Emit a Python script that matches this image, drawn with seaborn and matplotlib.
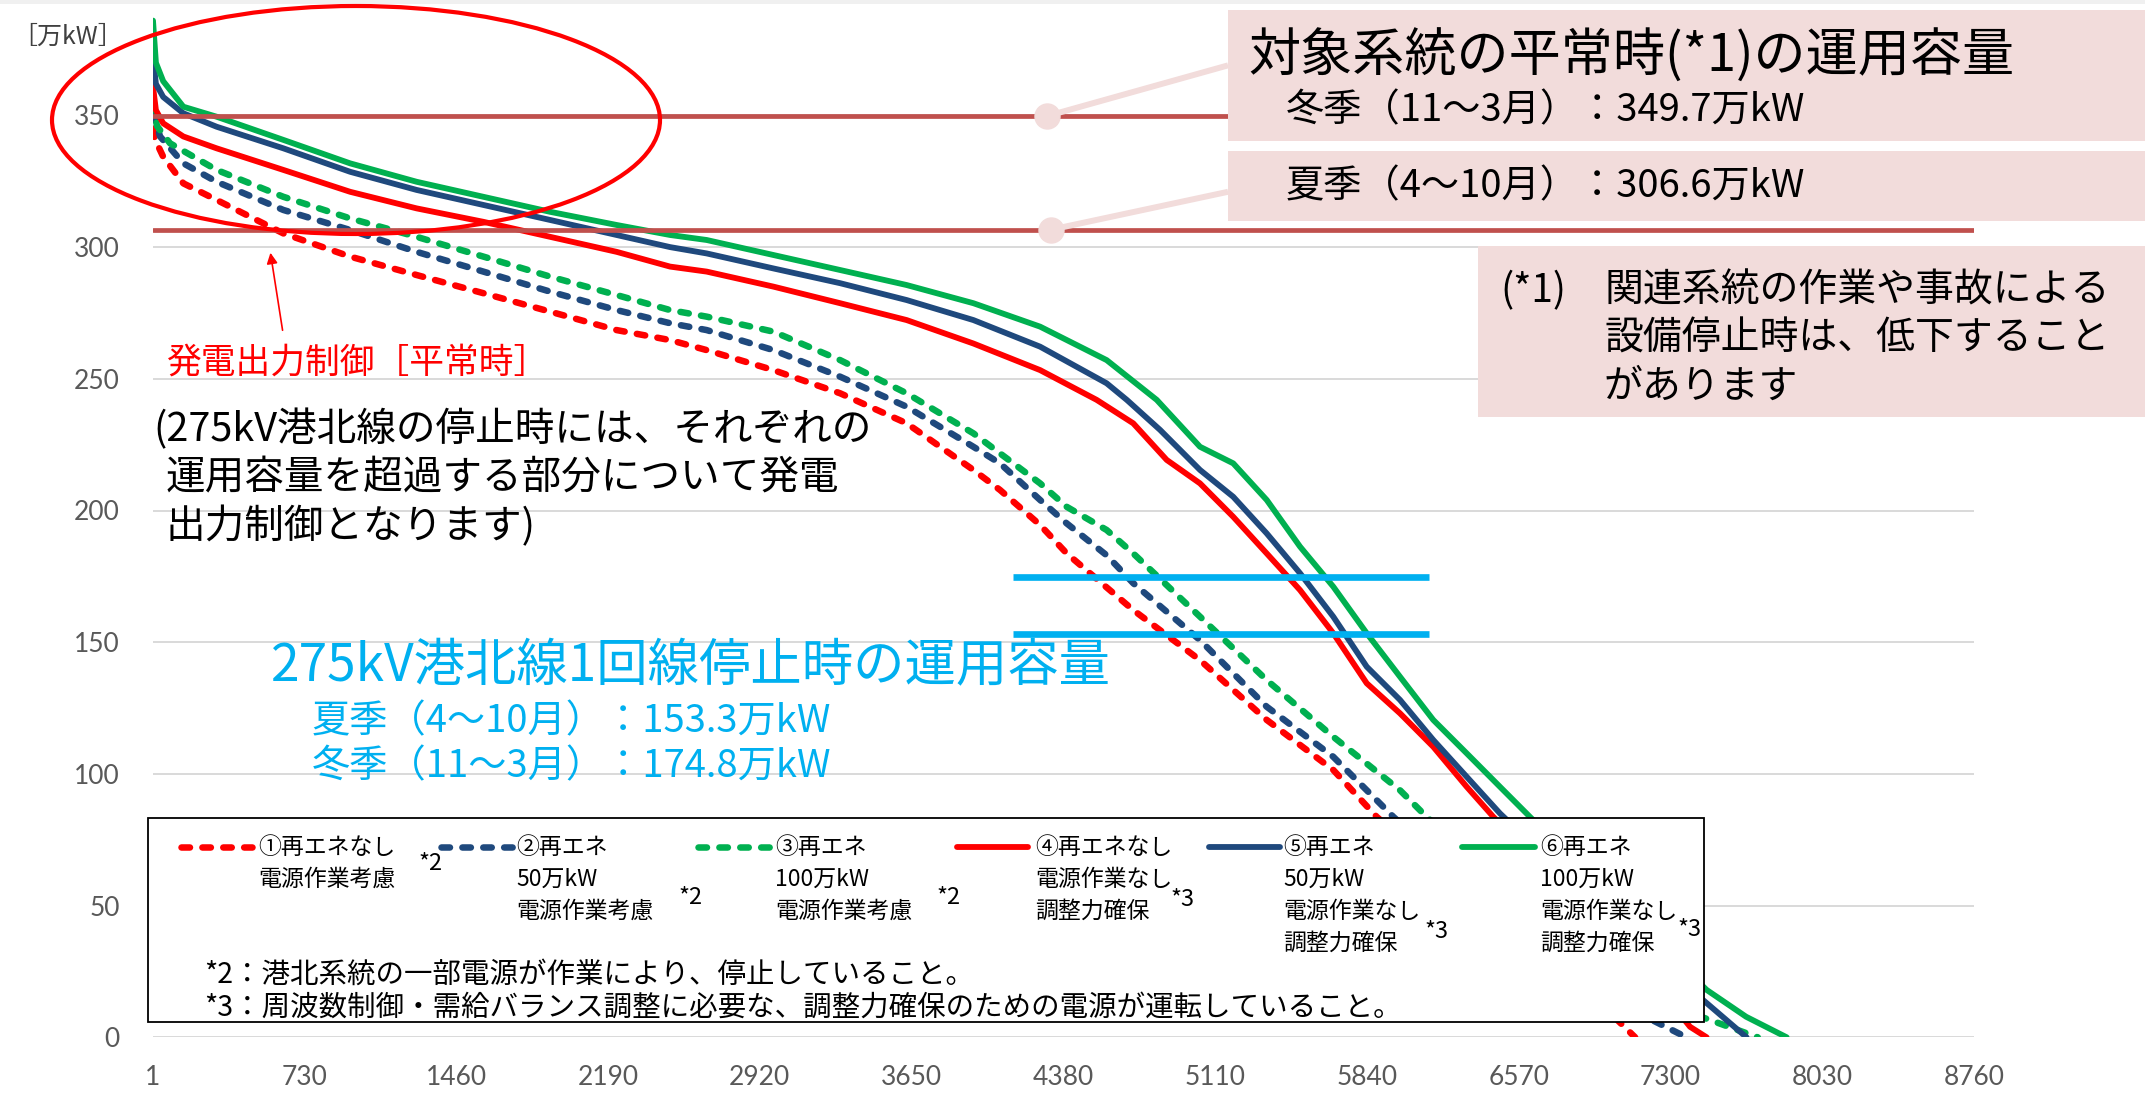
import matplotlib
matplotlib.use("Agg")
import matplotlib.pyplot as plt
import numpy as np
import pandas as pd
import seaborn as sns
from matplotlib.patches import Rectangle, Ellipse, FancyArrowPatch
from matplotlib.lines import Line2D

# ---------------- data ----------------
case_names = ["①", "②", "③", "④", "⑤", "⑥"]
case_colors = ["#FF0000", "#1F497D", "#00B050", "#FF0000", "#1F497D", "#00B050"]
case_dashed = [True, True, True, False, False, False]

# duration curves: hours (sorted) and power [万kW]
hours_1 = [1, 10, 50, 147, 307, 628, 949, 1269, 1590, 1911, 2231, 2488, 2664, 2985, 3306, 3626,
           3947, 4075, 4268, 4396, 4716, 5037, 5358, 5678, 5887, 6300, 6700, 7000, 7130]
mw_1 = [345, 341, 334.3, 324.2, 317.9, 305.2, 296.4, 289.4, 282.5, 275.5, 268.5, 264.7, 260.9,
        253.3, 244.5, 233.1, 215.4, 207.8, 194.5, 183.7, 162.2, 143.2, 120.5, 101.5, 83.7, 55,
        28, 10, 0]

hours_2 = [1, 35, 147, 307, 628, 949, 1269, 1590, 1911, 2231, 2488, 2664, 2985, 3306, 3626, 3947,
           4075, 4268, 4396, 4588, 4716, 5037, 5358, 5678, 5967, 6400, 6800, 7100, 7377]
mw_2 = [351, 342, 331.8, 324.8, 314.1, 306.5, 298.2, 290.7, 283.1, 276.1, 271.1, 268.5, 260.9,
        250.8, 239.4, 224.2, 217.9, 204, 195.1, 183, 172.4, 150.8, 125.5, 106.5, 83.7, 53, 27,
        11, 0]

hours_3 = [1, 20, 83, 307, 628, 949, 1269, 1590, 1911, 2231, 2488, 2664, 2985, 3306, 3626, 3947,
           4075, 4268, 4396, 4588, 4716, 5037, 5358, 5678, 5999, 6127, 6500, 6900, 7300, 7720]
mw_3 = [355, 346, 339.4, 329.3, 319.1, 310.9, 303.9, 296.4, 288.8, 281.8, 276.1, 273.6, 267.9,
        257.1, 244.5, 229.3, 221.7, 210.3, 201.4, 192.6, 183.7, 159.7, 135.6, 114.1, 93.8, 83.7,
        58, 32, 12, 0]

hours_4 = [1, 15, 50, 147, 307, 628, 949, 1269, 1590, 1911, 2231, 2488, 2664, 2985, 3306, 3626,
           3947, 4268, 4540, 4716, 4877, 5037, 5197, 5358, 5518, 5678, 5839, 5999, 6159, 6320,
           6448, 6750, 7080, 7394, 7474]
mw_4 = [361, 352, 347, 342, 337.5, 329.3, 321, 314.7, 309.6, 303.9, 298.2, 292.6, 290.7, 285,
        278.7, 272.3, 263.4, 253.3, 242, 233.1, 219.2, 210.3, 197.6, 183.7, 169.8, 153.4, 134.4,
        123, 110.3, 95.1, 83.7, 60, 35, 4, 0]

hours_5 = [1, 15, 50, 147, 307, 628, 949, 1269, 1590, 1911, 2231, 2488, 2664, 2985, 3306, 3626,
           3947, 4268, 4588, 4685, 4845, 5037, 5197, 5358, 5518, 5678, 5839, 5999, 6159, 6320,
           6480, 6800, 7100, 7474, 7666]
mw_5 = [372, 362, 357, 350.8, 345.7, 337.5, 328.6, 321.7, 316, 310.3, 304.6, 300, 297.6, 291.9,
        286.3, 279.9, 272.3, 262.2, 248.3, 242, 230.6, 215.4, 205.2, 191.3, 176.2, 159.7, 140.7,
        128.1, 112.9, 98.9, 85, 61, 38, 13, 0]

hours_6 = [1, 15, 50, 147, 307, 628, 949, 1269, 1590, 1911, 2231, 2488, 2664, 2985, 3306, 3626,
           3947, 4268, 4588, 4829, 5037, 5197, 5358, 5518, 5678, 5839, 5999, 6159, 6320, 6480,
           6624, 6900, 7200, 7474, 7664, 7859]
mw_6 = [386, 370, 363, 353.3, 349.5, 340.7, 331.8, 324.8, 319.1, 313.4, 308.4, 304.6, 302.7, 297,
        291.3, 285.6, 278.7, 269.8, 257.1, 242, 224.2, 217.9, 204, 186.3, 171.1, 153.4, 136.9,
        120.5, 107.8, 95.1, 83.7, 62, 39, 18, 7.8, 0]

all_hours = [hours_1, hours_2, hours_3, hours_4, hours_5, hours_6]
all_mw = [mw_1, mw_2, mw_3, mw_4, mw_5, mw_6]

x_ticks = [1, 730, 1460, 2190, 2920, 3650, 4380, 5110, 5840, 6570, 7300, 8030, 8760]
y_ticks = [0, 50, 100, 150, 200, 250, 300, 350]

cap_normal_winter = 349.7
cap_normal_summer = 306.6
cap_outage_summer = 153.3
cap_outage_winter = 174.8

legend_lines = [
    ["①再エネなし", "電源作業考慮"],
    ["②再エネ", "50万kW", "電源作業考慮"],
    ["③再エネ", "100万kW", "電源作業考慮"],
    ["④再エネなし", "電源作業なし", "調整力確保"],
    ["⑤再エネ", "50万kW", "電源作業なし", "調整力確保"],
    ["⑥再エネ", "100万kW", "電源作業なし", "調整力確保"],
]
legend_marks = ["*2", "*2", "*2", "*3", "*3", "*3"]

# ---------------- style ----------------
sns.set_theme(style="white")
plt.rcParams["font.family"] = ["Noto Sans CJK JP", "DejaVu Sans"]
plt.rcParams["lines.dash_capstyle"] = "round"
plt.rcParams["lines.solid_capstyle"] = "round"
plt.rcParams["lines.solid_joinstyle"] = "round"

W, H = 2145, 1096
fig = plt.figure(figsize=(W / 100, H / 100), dpi=100)
fig.patch.set_facecolor("white")


def fx(px):
    return px / W


def fy(py):
    return 1 - py / H


y0_px, top_px = 1037.3, -16.3
ax = fig.add_axes([fx(153), fy(y0_px), fx(1974) - fx(153), (y0_px - top_px) / H])

rows = []
for name, hrs, vals in zip(case_names, all_hours, all_mw):
    for h, v in zip(hrs, vals):
        rows.append({"case": name, "hour": h, "mw": v})
df = pd.DataFrame(rows)

pal = dict(zip(case_names, case_colors))
dash_spec = (1.3, 1.9)
dashed_cases = [c for c, d in zip(case_names, case_dashed) if d]
solid_cases = [c for c, d in zip(case_names, case_dashed) if not d]

sns.lineplot(data=df[df["case"].isin(dashed_cases)], x="hour", y="mw", hue="case",
             style="case", palette={c: pal[c] for c in dashed_cases},
             dashes={c: dash_spec for c in dashed_cases}, linewidth=4.7,
             estimator=None, sort=False, legend=False, ax=ax, zorder=2)
sns.lineplot(data=df[df["case"].isin(solid_cases)], x="hour", y="mw", hue="case",
             palette={c: pal[c] for c in solid_cases}, linewidth=4.2,
             estimator=None, sort=False, legend=False, ax=ax, zorder=3)
for ln in ax.get_lines():
    ln.set_dash_capstyle("round")

# operating capacity lines
ax.axhline(cap_normal_winter, color="#C0504D", lw=3.4, zorder=4)
ax.axhline(cap_normal_summer, color="#C0504D", lw=3.4, zorder=4)
ax.hlines([cap_outage_summer, cap_outage_winter], 4140, 6140, color="#00B0F0", lw=4.8, zorder=4)

# connectors from the capacity lines to the call-out boxes
pink = "#F2DCDB"
ax.plot([4299, 5172], [cap_normal_winter, 369], color=pink, lw=4.3, zorder=5,
        solid_capstyle="butt", clip_on=False)
ax.plot([4319, 5172], [cap_normal_summer, 321], color=pink, lw=4.3, zorder=5,
        solid_capstyle="butt", clip_on=False)
ax.plot([4299], [cap_normal_winter], "o", ms=18, color=pink, mec=pink, zorder=5)
ax.plot([4319], [cap_normal_summer], "o", ms=18, color=pink, mec=pink, zorder=5)

ax.set_xlim(1, 8760)
ax.set_ylim(0, 400)
ax.set_xticks(x_ticks)
ax.set_xticklabels([str(t) for t in x_ticks])
ax.set_yticks(y_ticks)
ax.set_yticklabels([str(t) for t in y_ticks])
ax.set_xlabel("")
ax.set_ylabel("")
ax.tick_params(axis="both", length=0, labelsize=19, labelcolor="#595959")
ax.tick_params(axis="y", pad=24)
ax.tick_params(axis="x", pad=20)
for lab in ax.get_xticklabels() + ax.get_yticklabels():
    lab.set_fontfamily("Lato")
ax.yaxis.grid(True, color="#D9D9D9", lw=1.4)
ax.xaxis.grid(False)
ax.set_axisbelow(True)
for sp in ax.spines.values():
    sp.set_visible(False)
ax.patch.set_alpha(0)

# top band
fig.add_artist(Rectangle((0, fy(4)), 1, 4 / H, transform=fig.transFigure,
                         fc="#F0F0F0", ec="none", zorder=1))

# unit label
fig.text(fx(12), fy(37), "［万kW］", fontsize=18, color="#404040", va="center", ha="left")


def box(x0, y0, x1, y1, fc, ec="none", lw=0, z=6):
    fig.add_artist(Rectangle((fx(x0), fy(y1)), (x1 - x0) / W, (y1 - y0) / H,
                             transform=fig.transFigure, fc=fc, ec=ec, lw=lw, zorder=z))


def txt(x, y, s, size, color="black", ha="left", z=9):
    fig.text(fx(x), fy(y), s, fontsize=size, color=color, ha=ha, va="center", zorder=z)


# call-out boxes
box(1228, 10, 2145, 141, pink)
txt(1248, 57, "対象系統の平常時(*1)の運用容量", 37.5)
txt(1286, 111, "冬季（11〜3月）：349.7万kW", 27.5)
box(1228, 151, 2145, 221, pink)
txt(1286, 187, "夏季（4〜10月）：306.6万kW", 27.5)
box(1478, 246, 2145, 417, pink)
txt(1500, 291, "(*1)", 28)
txt(1604, 291, "関連系統の作業や事故による", 28)
txt(1604, 339, "設備停止時は、低下すること", 28)
txt(1604, 387, "があります", 28)

# highlight ellipse and note
fig.add_artist(Ellipse((fx(356), fy(120)), 608 / W, 228 / H, transform=fig.transFigure,
                       fill=False, ec="#FF0000", lw=3.0, zorder=7))
fig.add_artist(FancyArrowPatch((fx(283), fy(333)), (fx(270), fy(250)),
                               transform=fig.transFigure, arrowstyle="-|>",
                               mutation_scale=16, color="#FF0000", lw=1.2, zorder=7))
txt(167, 363, "発電出力制御［平常時］", 25, color="#FF0000")

txt(153, 430, "(275kV港北線の停止時には、それぞれの", 28.5)
txt(166, 478, "運用容量を超過する部分について発電", 28.5)
txt(166, 527, "出力制御となります)", 28.5)

cyan = "#00B0F0"
txt(271, 667, "275kV港北線1回線停止時の運用容量", 37, color=cyan)
txt(312, 722, "夏季（4〜10月）：153.3万kW", 27.5, color=cyan)
txt(312, 767, "冬季（11〜3月）：174.8万kW", 27.5, color=cyan)

# legend box
box(148, 818, 1704, 1022, "white", ec="black", lw=1.3, z=8)
sample_x = [(181, 252), (441, 513), (698, 770), (957, 1028), (1209, 1280), (1462, 1535)]
text_x = [258, 516, 775, 1035, 1283, 1540]
row_y = [847, 879, 911, 943]
mark_pos = [(430, 864), (690, 897), (948, 897), (1183, 899), (1437, 932), (1690, 930)]
for i in range(6):
    x0, x1 = sample_x[i]
    ln = Line2D([fx(x0), fx(x1)], [fy(row_y[0])] * 2, transform=fig.transFigure,
                color=case_colors[i], lw=4.7 if case_dashed[i] else 4.2, zorder=9)
    if case_dashed[i]:
        ln.set_dashes(dash_spec)
        ln.set_dash_capstyle("round")
    fig.add_artist(ln)
    for r, s in enumerate(legend_lines[i]):
        txt(text_x[i], row_y[r], s, 16.5)
    mx, my = mark_pos[i]
    txt(mx, my, legend_marks[i], 17, ha="center")

txt(204, 975, "*2：港北系統の一部電源が作業により、停止していること。", 20.5)
txt(204, 1008, "*3：周波数制御・需給バランス調整に必要な、調整力確保のための電源が運転していること。", 20.5)

fig.savefig("out.png", dpi=100)
